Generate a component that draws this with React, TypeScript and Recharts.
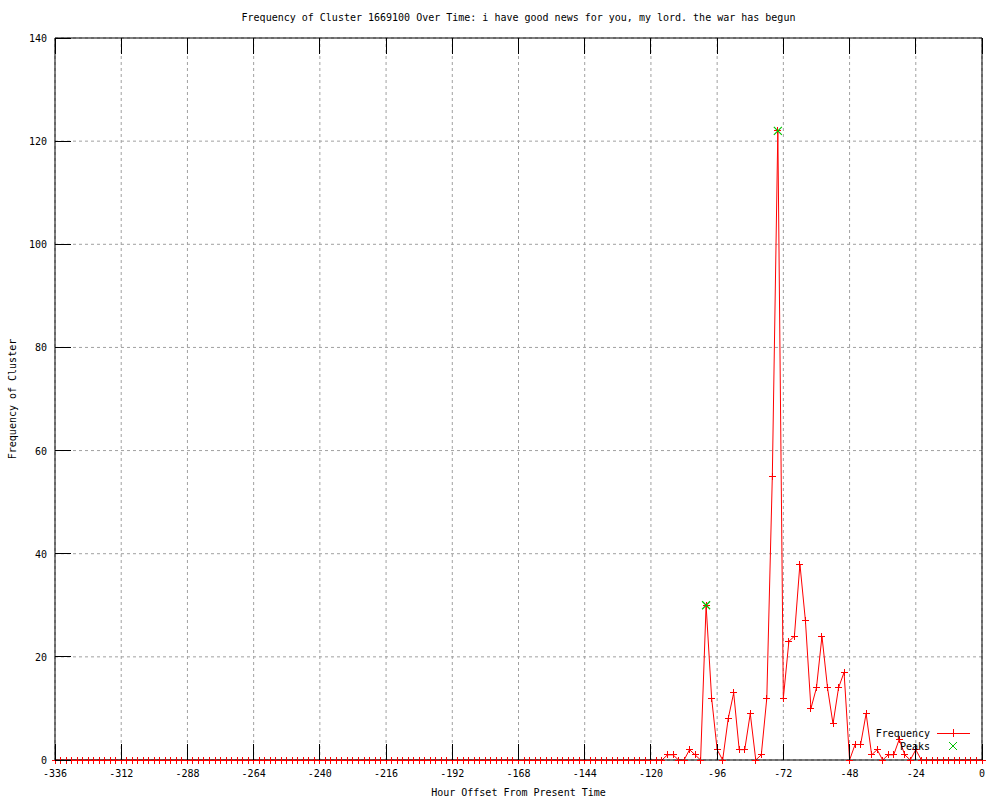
import { LineChart, Line, XAxis, YAxis, CartesianGrid, Legend } from "recharts";

// hours before present, one sample every 2 hours
const hours = [
  -336, -334, -332, -330, -328, -326, -324, -322, -320, -318, -316, -314,
  -312, -310, -308, -306, -304, -302, -300, -298, -296, -294, -292, -290,
  -288, -286, -284, -282, -280, -278, -276, -274, -272, -270, -268, -266,
  -264, -262, -260, -258, -256, -254, -252, -250, -248, -246, -244, -242,
  -240, -238, -236, -234, -232, -230, -228, -226, -224, -222, -220, -218,
  -216, -214, -212, -210, -208, -206, -204, -202, -200, -198, -196, -194,
  -192, -190, -188, -186, -184, -182, -180, -178, -176, -174, -172, -170,
  -168, -166, -164, -162, -160, -158, -156, -154, -152, -150, -148, -146,
  -144, -142, -140, -138, -136, -134, -132, -130, -128, -126, -124, -122,
  -120, -118, -116, -114, -112, -110, -108, -106, -104, -102, -100, -98,
  -96, -94, -92, -90, -88, -86, -84, -82, -80, -78, -76, -74,
  -72, -70, -68, -66, -64, -62, -60, -58, -56, -54, -52, -50,
  -48, -46, -44, -42, -40, -38, -36, -34, -32, -30, -28, -26,
  -24, -22, -20, -18, -16, -14, -12, -10, -8, -6, -4, -2,
  0,
];

const frequency = [
  0, 0, 0, 0, 0, 0, 0, 0, 0, 0, 0, 0,
  0, 0, 0, 0, 0, 0, 0, 0, 0, 0, 0, 0,
  0, 0, 0, 0, 0, 0, 0, 0, 0, 0, 0, 0,
  0, 0, 0, 0, 0, 0, 0, 0, 0, 0, 0, 0,
  0, 0, 0, 0, 0, 0, 0, 0, 0, 0, 0, 0,
  0, 0, 0, 0, 0, 0, 0, 0, 0, 0, 0, 0,
  0, 0, 0, 0, 0, 0, 0, 0, 0, 0, 0, 0,
  0, 0, 0, 0, 0, 0, 0, 0, 0, 0, 0, 0,
  0, 0, 0, 0, 0, 0, 0, 0, 0, 0, 0, 0,
  0, 0, 0, 1, 1, 0, 0, 2, 1, 0, 30, 12,
  2, 0, 8, 13, 2, 2, 9, 0, 1, 12, 55, 122,
  12, 23, 24, 38, 27, 10, 14, 24, 14, 7, 14, 17,
  0, 3, 3, 9, 1, 2, 0, 1, 1, 4, 1, 0,
  2, 0, 0, 0, 0, 0, 0, 0, 0, 0, 0, 0,
  0,
];

const peakHours = [-100, -74];
const peakValues = [30, 122];

const xTicks = [-336, -312, -288, -264, -240, -216, -192, -168, -144, -120, -96, -72, -48, -24, 0];
const yTicks = [0, 20, 40, 60, 80, 100, 120, 140];

const title = "Frequency of Cluster 1669100 Over Time: i have good news for you, my lord. the war has begun";
const xLabel = "Hour Offset From Present Time";
const yLabel = "Frequency of Cluster";

const data = hours.map((h, i) => {
  const p = peakHours.indexOf(h);
  return { hour: h, frequency: frequency[i], peak: p >= 0 ? peakValues[p] : null };
});

const FONT = '"DejaVu Sans Mono", "Liberation Mono", monospace';
const RED = "#ff0000";
const GREEN = "#00c000";
const TICK = 16;

const BottomTick = ({ x, y, payload }: any) => (
  <g>
    <line x1={x} y1={y} x2={x} y2={y - TICK} stroke="#000" shapeRendering="crispEdges" />
    <text x={x} y={y + 17} textAnchor="middle" fontFamily={FONT} fontSize={10} fill="#000">
      {payload.value}
    </text>
  </g>
);

const TopTick = ({ x, y }: any) => (
  <line x1={x} y1={y} x2={x} y2={y + TICK} stroke="#000" shapeRendering="crispEdges" />
);

const LeftTick = ({ x, y, payload }: any) => (
  <g>
    <line x1={x} y1={y} x2={x + TICK} y2={y} stroke="#000" shapeRendering="crispEdges" />
    <text x={x - 8} y={y + 4} textAnchor="end" fontFamily={FONT} fontSize={10} fill="#000">
      {payload.value}
    </text>
  </g>
);

const RightTick = ({ x, y }: any) => (
  <line x1={x} y1={y} x2={x - TICK} y2={y} stroke="#000" shapeRendering="crispEdges" />
);

const PlusDot = ({ cx, cy, index }: any) => {
  if (cx == null || cy == null) return <g key={index} />;
  return (
    <g key={index} shapeRendering="crispEdges">
      <line x1={cx - 3.5} y1={cy} x2={cx + 3.5} y2={cy} stroke={RED} />
      <line x1={cx} y1={cy - 3.5} x2={cx} y2={cy + 3.5} stroke={RED} />
    </g>
  );
};

const CrossDot = ({ cx, cy, index, value }: any) => {
  if (cx == null || cy == null || value == null) return <g key={index} />;
  return (
    <g key={index}>
      <line x1={cx - 4} y1={cy - 4} x2={cx + 4} y2={cy + 4} stroke={GREEN} strokeWidth={1.2} />
      <line x1={cx - 4} y1={cy + 4} x2={cx + 4} y2={cy - 4} stroke={GREEN} strokeWidth={1.2} />
    </g>
  );
};

const LegendBox = () => (
  <svg width={130} height={30} style={{ display: "block" }}>
    <text x={70} y={11} textAnchor="end" fontFamily={FONT} fontSize={10} fill="#000">Frequency</text>
    <rect x={77} y={7} width={33} height={1} fill={RED} />
    <rect x={93} y={3} width={1} height={8} fill={RED} />
    <text x={70} y={24} textAnchor="end" fontFamily={FONT} fontSize={10} fill="#000">Peaks</text>
    <line x1={89} y1={16} x2={97} y2={24} stroke={GREEN} />
    <line x1={89} y1={24} x2={97} y2={16} stroke={GREEN} />
  </svg>
);

const textStyle = {
  position: "absolute" as const,
  fontFamily: FONT,
  fontSize: 10,
  lineHeight: "12px",
  color: "#000",
  whiteSpace: "nowrap" as const,
};

export default function App() {
  return (
    <div style={{ position: "absolute", left: 0, top: 0, width: 1000, height: 800, background: "#fff" }}>
      <LineChart
        width={1000}
        height={800}
        data={data}
        margin={{ top: 37, right: 17, bottom: 0, left: 0 }}
      >
        <CartesianGrid stroke="#a0a0a0" strokeDasharray="3 3" xAxisId="b" yAxisId="l" />
        <XAxis
          xAxisId="b"
          dataKey="hour"
          type="number"
          domain={[-336, 0]}
          ticks={xTicks}
          height={40}
          axisLine={{ stroke: "#000" }}
          tickLine={false}
          tickSize={0}
          tickMargin={0}
          tick={<BottomTick />}
          interval={0}
        />
        <XAxis
          xAxisId="t"
          orientation="top"
          dataKey="hour"
          type="number"
          domain={[-336, 0]}
          ticks={xTicks}
          height={1}
          axisLine={{ stroke: "#000" }}
          tickLine={false}
          tickSize={0}
          tickMargin={0}
          tick={<TopTick />}
          interval={0}
        />
        <YAxis
          yAxisId="l"
          type="number"
          domain={[0, 140]}
          ticks={yTicks}
          width={55}
          axisLine={{ stroke: "#000" }}
          tickLine={false}
          tickSize={0}
          tickMargin={0}
          tick={<LeftTick />}
          interval={0}
        />
        <YAxis
          yAxisId="r"
          orientation="right"
          type="number"
          domain={[0, 140]}
          ticks={yTicks}
          width={1}
          axisLine={{ stroke: "#000" }}
          tickLine={false}
          tickSize={0}
          tickMargin={0}
          tick={<RightTick />}
          interval={0}
        />
        <Legend
          layout="horizontal"
          verticalAlign="middle"
          align="center"
          content={() => <LegendBox />}
          wrapperStyle={{ left: 860, top: 726, width: 130, height: 30 }}
        />
        <Line
          xAxisId="b"
          yAxisId="l"
          dataKey="frequency"
          name="Frequency"
          type="linear"
          stroke={RED}
          strokeWidth={1}
          dot={(p: any) => <PlusDot key={p.index} {...p} />}
          activeDot={false}
          isAnimationActive={false}
        />
        <Line
          xAxisId="b"
          yAxisId="l"
          dataKey="peak"
          name="Peaks"
          stroke="none"
          dot={(p: any) => <CrossDot key={p.index} {...p} />}
          activeDot={false}
          isAnimationActive={false}
        />
      </LineChart>
      <div style={{ ...textStyle, left: 55, top: 12, width: 927, textAlign: "center" }}>{title}</div>
      <div style={{ ...textStyle, left: 55, top: 787, width: 927, textAlign: "center" }}>{xLabel}</div>
      <div
        style={{
          ...textStyle,
          left: 13 - 100,
          top: 399 - 6,
          width: 200,
          textAlign: "center",
          transform: "rotate(-90deg)",
        }}
      >
        {yLabel}
      </div>
    </div>
  );
}
